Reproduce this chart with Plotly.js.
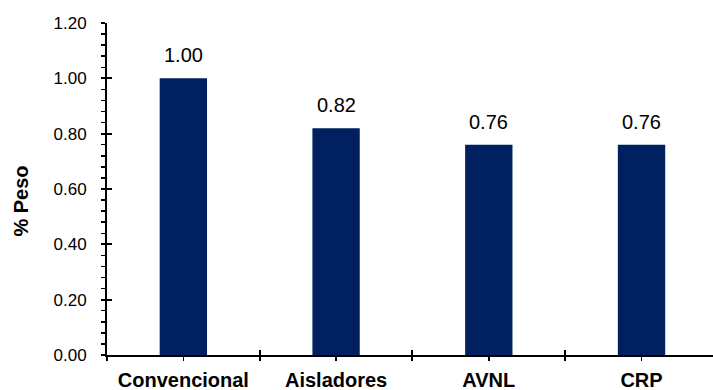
<!DOCTYPE html>
<html>
<head>
<meta charset="utf-8">
<script src="https://cdn.plot.ly/plotly-3.0.1.min.js"></script>
<style>
  html, body { margin: 0; padding: 0; background: #ffffff; }
  #chart { width: 713px; height: 390px; }
</style>
</head>
<body>
<div id="chart"></div>
<script>
// Relative weight per structural system
const categories = ['Convencional', 'Aisladores', 'AVNL', 'CRP'];
const pesoValues = [1.00, 0.82, 0.76, 0.76];
const yTickValues = [0, 0.2, 0.4, 0.6, 0.8, 1.0, 1.2];
const yTitle = '% Peso';

const barColor = '#00205f';
const fontFamily = '"Liberation Sans", Arial, sans-serif';
const xEnd = 3.468;   // x axis runs off the right edge

// category boundaries for the crossing tick marks
const bounds = [-0.5].concat(categories.map((_, i) => i + 0.5));

const bars = {
  type: 'bar',
  x: categories,
  y: pesoValues,
  width: 0.31,
  marker: { color: barColor, line: { width: 0 } },
  hoverinfo: 'skip'
};

// empty traces so the tick-only overlay axes get drawn
const helperX2 = { type: 'scatter', x: [0], y: [0], xaxis: 'x2', yaxis: 'y', mode: 'none', hoverinfo: 'skip', showlegend: false };
const helperX3 = { type: 'scatter', x: [0], y: [0], xaxis: 'x3', yaxis: 'y', mode: 'none', hoverinfo: 'skip', showlegend: false };
const helperY2 = { type: 'scatter', x: [0], y: [0], xaxis: 'x2', yaxis: 'y2', mode: 'none', hoverinfo: 'skip', showlegend: false };

const labels = categories.map((c, i) => ({
  x: c,
  y: pesoValues[i],
  xref: 'x',
  yref: 'y',
  text: pesoValues[i].toFixed(2),
  showarrow: false,
  yanchor: 'bottom',
  yshift: 10,
  font: { family: fontFamily, size: 20, color: '#000000' }
}));

// vertical axis title
labels.push({
  xref: 'paper',
  yref: 'paper',
  x: -0.142,
  y: 0.465,
  xanchor: 'center',
  yanchor: 'middle',
  textangle: -90,
  text: yTitle,
  showarrow: false,
  font: { family: fontFamily, size: 20, color: '#000000', weight: 'bold' }
});

const layout = {
  width: 713,
  height: 390,
  margin: { l: 107, r: 0, t: 23, b: 35, pad: 0 },
  paper_bgcolor: '#ffffff',
  plot_bgcolor: '#ffffff',
  showlegend: false,
  font: { family: fontFamily, color: '#000000' },
  xaxis: {
    type: 'category',
    range: [-0.5, xEnd],
    showline: true,
    linecolor: '#000000',
    linewidth: 2,
    showgrid: false,
    zeroline: false,
    ticks: 'outside',
    ticklen: 4,
    tickwidth: 1.5,
    tickcolor: '#000000',
    ticklabelstandoff: 2,
    tickfont: { family: fontFamily, size: 20, color: '#000000', weight: 'bold' }
  },
  xaxis2: {
    overlaying: 'x',
    anchor: 'y',
    range: [-0.5, xEnd],
    showgrid: false,
    zeroline: false,
    showline: false,
    tickmode: 'array',
    tickvals: bounds,
    ticks: 'outside',
    ticklen: 5,
    tickwidth: 2,
    tickcolor: '#000000',
    showticklabels: false
  },
  xaxis3: {
    overlaying: 'x',
    anchor: 'y',
    range: [-0.5, xEnd],
    showgrid: false,
    zeroline: false,
    showline: false,
    tickmode: 'array',
    tickvals: bounds,
    ticks: 'inside',
    ticklen: 5,
    tickwidth: 2,
    tickcolor: '#000000',
    showticklabels: false
  },
  yaxis: {
    range: [0, 1.2],
    tickmode: 'array',
    tickvals: yTickValues,
    ticktext: yTickValues.map(v => v.toFixed(2)),
    showline: true,
    linecolor: '#000000',
    linewidth: 2,
    showgrid: false,
    zeroline: false,
    ticks: 'outside',
    ticklen: 4,
    tickwidth: 2,
    tickcolor: '#000000',
    ticklabelstandoff: 11,
    tickfont: { family: fontFamily, size: 17, color: '#000000' },
    minor: { dtick: 0.04, tick0: 0, ticks: 'outside', ticklen: 4, tickwidth: 1.5, tickcolor: '#000000', showgrid: false }
  },
  yaxis2: {
    overlaying: 'y',
    anchor: 'x',
    side: 'left',
    range: [0, 1.2],
    tickmode: 'array',
    tickvals: yTickValues,
    showline: false,
    showgrid: false,
    zeroline: false,
    ticks: 'inside',
    ticklen: 5,
    tickwidth: 2,
    tickcolor: '#000000',
    showticklabels: false
  },
  annotations: labels
};

Plotly.newPlot('chart', [bars, helperX2, helperX3, helperY2], layout, { displayModeBar: false, staticPlot: true });
</script>
</body>
</html>
